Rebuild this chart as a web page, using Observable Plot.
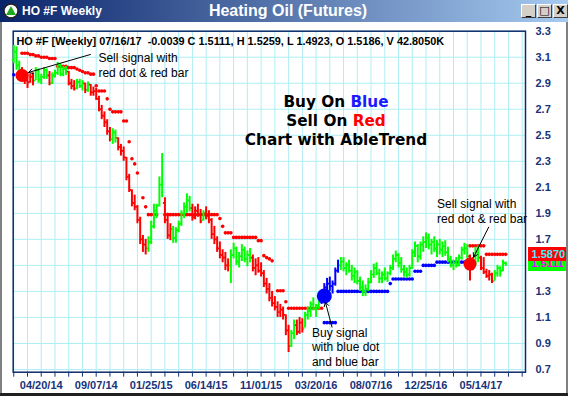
<!DOCTYPE html>
<html><head><meta charset="utf-8">
<script src="https://cdn.jsdelivr.net/npm/d3@7"></script>
<script src="https://cdn.jsdelivr.net/npm/@observablehq/plot@0.6"></script>
<style>
html,body{margin:0;padding:0;background:#fff;}
#win{position:relative;width:568px;height:396px;overflow:hidden;background:#fff;font-family:"Liberation Sans",Arial,sans-serif;}
#bar{position:absolute;left:0;top:0;width:568px;height:22px;background:linear-gradient(90deg,#0a246a 0%,#a6caf0 100%);}
#bar .name{position:absolute;left:22px;top:4px;color:#fff;font:bold 12px "Liberation Sans",Arial,sans-serif;white-space:nowrap;}
#bar .ttl{position:absolute;left:0;width:576px;text-align:center;top:2px;color:#fff;font:bold 16px "Liberation Sans",Arial,sans-serif;white-space:nowrap;}
#bar .icon{position:absolute;left:3px;top:3px;}
.btn{position:absolute;top:4px;width:15px;height:14px;background:#d4d0c8;border-top:1px solid #fff;border-left:1px solid #fff;border-right:1px solid #404040;border-bottom:1px solid #404040;box-sizing:border-box;font:bold 11px "DejaVu Sans",sans-serif;color:#000;text-align:center;line-height:11px;}
#chart{position:absolute;left:0;top:22px;}
#big{position:absolute;left:186px;width:300px;top:93px;text-align:center;font:bold 15.3px "DejaVu Sans",sans-serif;line-height:19px;color:#000;white-space:nowrap;}
#edgeL{position:absolute;left:0;top:22px;width:2px;height:374px;background:#808080;}
#edgeR{position:absolute;right:0;top:22px;width:2px;height:374px;background:#808080;}
#edgeB{position:absolute;left:0;bottom:0;width:568px;height:3px;background:#202020;}
</style></head>
<body>
<div id="win">
  <div id="bar">
    <svg class="icon" width="16" height="16"><circle cx="8" cy="8" r="7" fill="#fff" stroke="#222" stroke-width="1.5"/><path d="M8 3 L13 12 L3 12 Z" fill="#1faa1f"/></svg>
    <div class="name">HO #F Weekly</div>
    <div class="ttl">Heating Oil (Futures)</div>
    <div class="btn" style="left:521px">_</div>
    <div class="btn" style="left:537px">□</div>
    <div class="btn" style="left:553px">X</div>
  </div>
  <div id="chart"></div>
  <div id="big">Buy On <span style="color:#1a1aff">Blue</span><br>Sell On <span style="color:#ff0000">Red</span><br>Chart with AbleTrend</div>
  <div id="edgeL"></div><div id="edgeR"></div><div id="edgeB"></div>
</div>
<script>
// ---- weekly bars, index 0 = week of 02/09/14 ... index 179 = 07/16/17 ----
const opens = [
3.08,3.14,3.04,3.00,2.95,2.92,2.91,2.95,2.92,3.00,
2.93,2.95,3.00,2.96,2.90,2.96,2.98,3.04,2.97,3.01,
2.99,2.90,2.88,2.86,2.91,2.88,2.90,2.85,2.89,2.83,
2.84,2.78,2.70,2.65,2.60,2.53,2.47,2.52,2.48,2.41,
2.38,2.33,2.18,2.08,1.98,1.95,1.85,1.70,1.66,1.63,
1.68,1.80,1.92,1.96,2.12,1.98,1.85,1.73,1.78,1.71,
1.77,1.82,1.90,1.95,2.00,1.94,1.87,1.92,1.89,1.85,
1.90,1.88,1.85,1.74,1.70,1.63,1.58,1.56,1.50,1.50,
1.58,1.63,1.53,1.57,1.62,1.55,1.58,1.56,1.48,1.50,
1.46,1.44,1.36,1.32,1.25,1.21,1.18,1.14,1.16,1.12,
1.00,0.88,0.98,1.04,0.99,1.06,1.02,1.12,1.15,1.20,
1.17,1.19,1.22,1.28,1.33,1.36,1.34,1.36,1.46,1.50,
1.53,1.48,1.50,1.46,1.42,1.45,1.38,1.33,1.30,1.32,
1.37,1.43,1.48,1.44,1.40,1.43,1.40,1.44,1.48,1.55,
1.58,1.52,1.47,1.45,1.43,1.48,1.60,1.65,1.57,1.66,
1.68,1.71,1.66,1.68,1.63,1.66,1.62,1.65,1.60,1.55,
1.50,1.52,1.50,1.56,1.62,1.63,1.57,1.50,1.52,1.60,
1.56,1.48,1.45,1.42,1.43,1.38,1.44,1.48,1.46,1.5186];
const highs = [
3.19,3.18,3.07,3.02,2.99,2.98,2.97,2.98,3.02,3.01,
2.97,3.02,3.01,2.99,2.98,3.00,3.06,3.05,3.03,3.03,
2.99,2.93,2.92,2.93,2.93,2.92,2.90,2.91,2.89,2.87,
2.86,2.80,2.73,2.68,2.62,2.56,2.55,2.54,2.48,2.43,
2.41,2.33,2.20,2.08,2.04,1.96,1.87,1.73,1.70,1.72,
1.84,1.97,1.97,2.18,2.36,2.02,1.90,1.82,1.80,1.79,
1.84,1.92,1.98,2.05,2.03,1.97,1.95,1.97,1.93,1.92,
1.95,1.92,1.86,1.80,1.72,1.68,1.62,1.60,1.55,1.62,
1.67,1.64,1.60,1.66,1.64,1.61,1.63,1.58,1.55,1.56,
1.52,1.46,1.40,1.36,1.30,1.26,1.22,1.20,1.18,1.12,
1.04,1.00,1.08,1.08,1.10,1.09,1.14,1.18,1.22,1.25,
1.20,1.24,1.30,1.36,1.40,1.41,1.38,1.48,1.54,1.56,
1.56,1.52,1.54,1.50,1.48,1.46,1.41,1.38,1.35,1.40,
1.46,1.51,1.52,1.47,1.45,1.48,1.45,1.50,1.58,1.61,
1.59,1.56,1.50,1.48,1.50,1.62,1.68,1.66,1.68,1.72,
1.75,1.74,1.70,1.72,1.69,1.70,1.68,1.69,1.64,1.57,
1.54,1.56,1.58,1.64,1.67,1.66,1.58,1.56,1.64,1.65,
1.57,1.56,1.47,1.46,1.44,1.46,1.50,1.49,1.54,1.5259];
const lows = [
3.05,3.00,2.97,2.93,2.89,2.86,2.90,2.88,2.92,2.90,
2.89,2.93,2.93,2.88,2.89,2.94,2.96,2.95,2.95,2.96,
2.88,2.85,2.84,2.85,2.86,2.84,2.82,2.83,2.80,2.80,
2.77,2.68,2.62,2.56,2.50,2.45,2.43,2.44,2.38,2.34,
2.30,2.15,2.06,1.95,1.92,1.82,1.66,1.60,1.58,1.60,
1.66,1.78,1.86,1.95,2.02,1.82,1.70,1.69,1.67,1.67,
1.75,1.80,1.86,1.90,1.91,1.84,1.85,1.87,1.82,1.84,
1.85,1.82,1.70,1.66,1.60,1.55,1.52,1.46,1.45,1.36,
1.55,1.50,1.48,1.53,1.52,1.49,1.52,1.45,1.42,1.44,
1.41,1.33,1.28,1.22,1.18,1.15,1.10,1.10,1.08,0.96,
0.83,0.87,0.93,0.96,0.97,0.98,1.02,1.08,1.10,1.15,
1.10,1.16,1.20,1.24,1.28,1.30,1.28,1.34,1.44,1.46,
1.45,1.42,1.44,1.38,1.36,1.35,1.30,1.26,1.26,1.30,
1.36,1.40,1.42,1.36,1.36,1.38,1.37,1.42,1.46,1.52,
1.48,1.44,1.41,1.40,1.41,1.47,1.56,1.52,1.54,1.60,
1.63,1.62,1.58,1.60,1.56,1.58,1.56,1.57,1.52,1.48,
1.46,1.48,1.49,1.54,1.58,1.55,1.38,1.46,1.50,1.52,
1.46,1.43,1.40,1.38,1.36,1.38,1.41,1.41,1.45,1.4923];
const closes = [
3.15,3.03,2.99,2.95,2.92,2.90,2.95,2.92,3.00,2.93,
2.95,3.00,2.96,2.90,2.96,2.98,3.04,2.97,3.01,2.99,
2.90,2.88,2.86,2.91,2.88,2.90,2.85,2.89,2.83,2.84,
2.78,2.70,2.65,2.60,2.53,2.49,2.53,2.48,2.41,2.38,
2.33,2.18,2.10,1.98,1.95,1.85,1.70,1.66,1.63,1.68,
1.80,1.92,1.90,2.12,2.06,1.85,1.73,1.78,1.72,1.77,
1.82,1.90,1.95,2.00,1.94,1.87,1.92,1.89,1.84,1.90,
1.88,1.85,1.74,1.70,1.63,1.58,1.56,1.50,1.52,1.58,
1.63,1.53,1.57,1.62,1.55,1.58,1.56,1.48,1.50,1.46,
1.44,1.36,1.32,1.25,1.21,1.18,1.14,1.16,1.12,1.00,
0.88,0.98,1.04,0.99,1.06,1.01,1.12,1.15,1.20,1.17,
1.19,1.22,1.28,1.33,1.36,1.34,1.36,1.46,1.50,1.53,
1.48,1.50,1.46,1.42,1.45,1.38,1.33,1.30,1.32,1.37,
1.43,1.48,1.44,1.40,1.43,1.40,1.44,1.48,1.55,1.58,
1.52,1.47,1.45,1.43,1.48,1.60,1.65,1.57,1.66,1.68,
1.71,1.66,1.68,1.63,1.66,1.62,1.65,1.60,1.55,1.50,
1.52,1.50,1.56,1.62,1.63,1.57,1.50,1.52,1.60,1.56,
1.48,1.45,1.42,1.43,1.38,1.44,1.48,1.46,1.52,1.5111];
// bar colour state runs: G = neutral (green), R = sell (red), B = buy (blue)
const stateRuns = [["G",3],["R",5],["G",5],["R",1],["G",6],["R",3],["G",3],["R",1],["G",1],["R",8],
  ["G",2],["R",11],["G",6],["R",3],["G",7],["R",4],["G",1],["R",9],["G",8],["R",14],["G",2],["R",3],
  ["G",6],["B",7],["G",47],["R",2],["G",2],["R",5],["G",5]];
// trend stop dots: [first index, last index, level]
const redStopRuns = [[3,5,3.13],[6,7,3.12],[8,9,3.11],[10,12,3.10],[13,15,3.09],[16,19,3.03],[20,22,3.02],
  [23,23,3.01],[24,24,3.00],[25,25,2.99],[26,27,2.98],[28,29,2.97],[30,30,2.88],[31,33,2.84],[34,34,2.78],
  [35,35,2.70],[36,39,2.68],[40,41,2.61],[42,42,2.45],[43,43,2.32],[44,44,2.28],[45,45,2.21],[47,47,2.02],
  [48,48,1.95],[49,52,1.89],[55,74,1.89],[75,75,1.86],[76,76,1.80],[77,79,1.75],[80,88,1.715],[89,90,1.69],
  [91,91,1.575],[92,92,1.56],[93,93,1.55],[94,94,1.535],[96,98,1.305],[99,99,1.22],[100,112,1.17],
  [166,171,1.65],[172,179,1.585]];
const blueStopRuns = [[0,0,2.965],[113,117,1.06],[118,136,1.30],[137,137,1.36],[138,145,1.395],
  [146,148,1.455],[149,153,1.50],[154,165,1.525]];
// big signal dots
const signalIdx = [3, 113, 166];
const signalVal = [2.96, 1.265, 1.51];
const signalState = ["R", "B", "R"];
const signalSize = [6.5, 7.5, 6.5];
// axes
const yTicks = [0.7,0.9,1.1,1.3,1.5,1.7,1.9,2.1,2.3,2.5,2.7,2.9,3.1,3.3];
const xTickIdx = d3.range(0, 186, 5);
const xLabelIdx = [10,30,50,70,90,110,130,150,170];
const xLabels = ["04/20/14","09/07/14","01/25/15","06/14/15","11/01/15","03/20/16","08/07/16","12/25/16","05/14/17"];
const header = "HO #F [Weekly] 07/16/17  -0.0039 C 1.5111, H 1.5259, L 1.4923, O 1.5186, V 42.8050K";
const lastStop = 1.5870, lastClose = 1.5111;
// annotations
const notes = [
  {x:30.8, y:3.042, text:"Sell signal with\nred dot & red bar", lh:1.25},
  {x:108.5, y:0.875, text:"Buy signal\nwith blue dot\nand blue bar", lh:1.19},
  {x:154.0, y:1.917, text:"Sell signal with\nred dot & red bar", lh:1.25}
];
const arrows = [
  {x1:27.9, y1:3.121, x2:5.4, y2:2.983},
  {x1:115.8, y1:1.025, x2:113.4, y2:1.217},
  {x1:172.8, y1:1.794, x2:167.3, y2:1.563}
];

const colorOf = {G:"#00ff00", R:"#ff0000", B:"#0000ff"};
const states = stateRuns.flatMap(([s,n]) => Array(n).fill(s));
const bars = opens.map((o,i) => ({i, o, h:highs[i], l:lows[i], c:closes[i], col:colorOf[states[i]]}));
const expand = runs => runs.flatMap(([a,b,v]) => d3.range(a, b+1).map(i => ({i, v})));
const redStops = expand(redStopRuns), blueStops = expand(blueStopRuns);
const signals = signalIdx.map((i,k) => ({i, v:signalVal[k], col:colorOf[signalState[k]], r:signalSize[k]}));
const labelAt = new Map(xLabelIdx.map((d,k) => [d, xLabels[k]]));
const boxX1 = 187.3, boxX2 = 202;

const chart = Plot.plot({
  width:568, height:374,
  marginLeft:12.7, marginRight:43, marginTop:8.7, marginBottom:24.3,
  x:{domain:[-0.2,186.2], axis:null, label:null},
  y:{domain:[0.679,3.3], axis:null, label:null},
  color:{type:"identity"},
  r:{type:"identity"},
  style:{background:"transparent", color:"#17337a", fontFamily:"'Liberation Sans', Arial, sans-serif", overflow:"visible"},
  marks:[
    Plot.ruleX(xTickIdx, {stroke:"#aeeff3", strokeWidth:1}),
    Plot.ruleY(yTicks, {stroke:"#aeeff3", strokeWidth:1}),
    Plot.frame({stroke:"#0b2a6b", strokeWidth:1.5}),
    Plot.dot(redStops, {x:"i", y:"v", r:1.8, fill:"#ff0000"}),
    Plot.dot(blueStops, {x:"i", y:"v", r:1.8, fill:"#0000ff"}),
    Plot.ruleX(bars, {x:"i", y1:"l", y2:"h", stroke:"col", strokeWidth:2}),
    Plot.ruleY(bars, {y:"o", x1:d => d.i - 0.55, x2:"i", stroke:"col", strokeWidth:1.8}),
    Plot.ruleY(bars, {y:"c", x1:"i", x2:d => d.i + 0.55, stroke:"col", strokeWidth:1.8}),
    Plot.dot(signals, {x:"i", y:"v", r:"r", fill:"col"}),
    Plot.arrow(arrows, {x1:"x1", y1:"y1", x2:"x2", y2:"y2", stroke:"#000", strokeWidth:1, headLength:7}),
    ...notes.map(n => Plot.text([n], {x:"x", y:"y", text:"text", textAnchor:"start", lineAnchor:"middle", lineHeight:n.lh, fontSize:12, fill:"#000"})),
    Plot.text([header], {frameAnchor:"top-left", dx:3.3, dy:6.5, fontSize:10.9, fontWeight:"bold", fill:"#000"}),
    Plot.axisX(xTickIdx, {anchor:"bottom", tickSize:5, tickPadding:4, tickFormat:d => labelAt.get(d) ?? "", fontSize:11, fontWeight:"bold"}),
    Plot.axisY(yTicks, {anchor:"right", tickSize:0, tickPadding:10, tickFormat:d => d.toFixed(1), fontSize:11, fontWeight:"bold"}),
    Plot.ruleY([lastClose], {y:d => d, x1:boxX1, x2:boxX2, stroke:"#00ff00", strokeWidth:14}),
    Plot.text([lastClose], {y:d => d, x:boxX1, dx:3, text:d => d.toFixed(4), textAnchor:"start", fill:"#ff00ff", fontSize:11, fontWeight:"bold"}),
    Plot.ruleY([lastStop], {y:d => d, x1:boxX1, x2:boxX2, stroke:"#ff0000", strokeWidth:14}),
    Plot.text([lastStop], {y:d => d, x:boxX1, dx:3, text:d => d.toFixed(4), textAnchor:"start", fill:"#44eeff", fontSize:11, fontWeight:"bold"})
  ]
});
document.getElementById("chart").appendChild(chart);
</script>
</body></html>
